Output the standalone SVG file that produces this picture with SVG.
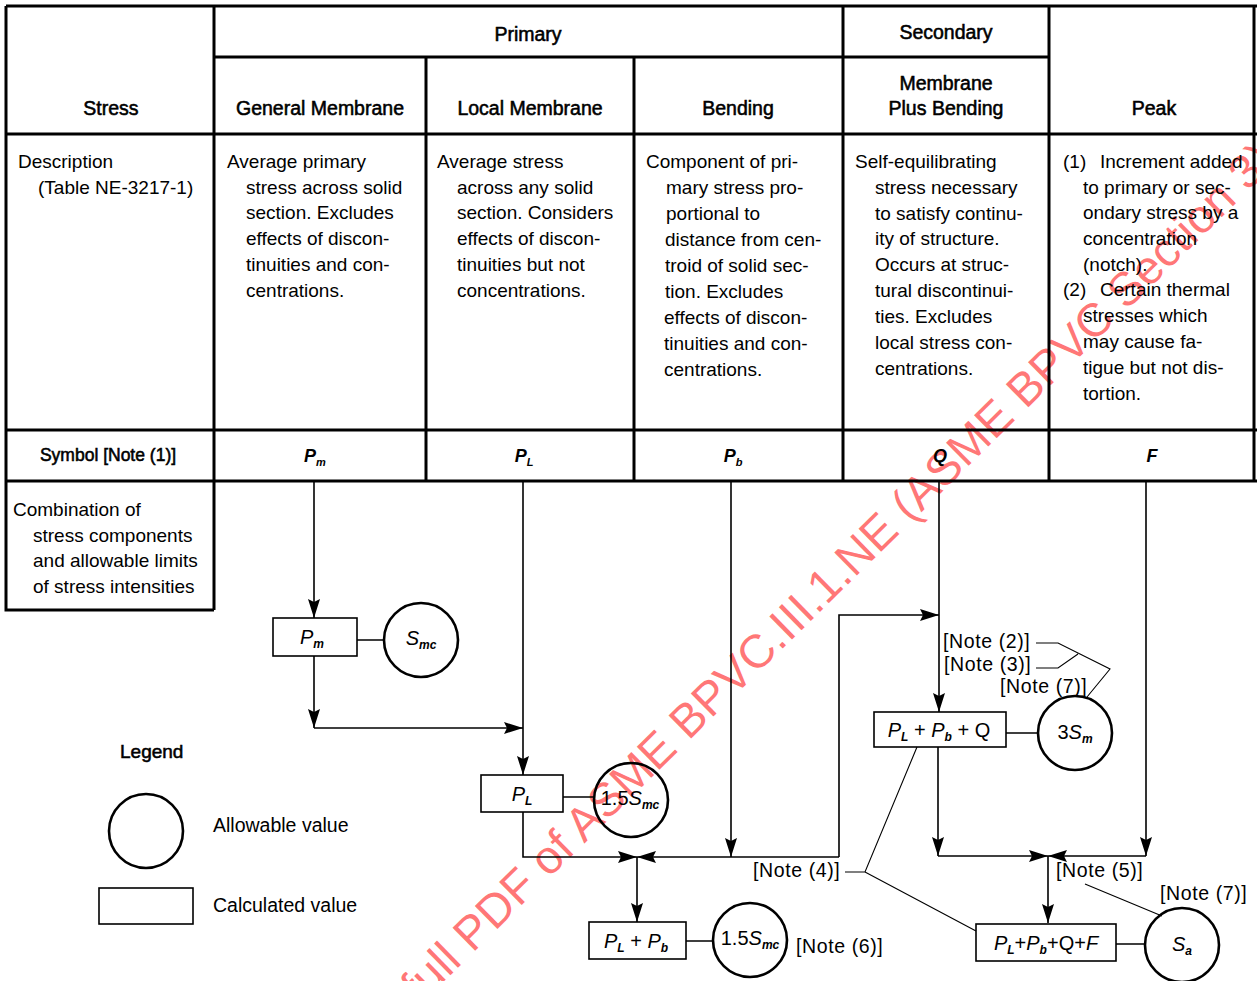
<svg xmlns="http://www.w3.org/2000/svg" width="1257" height="981" viewBox="0 0 1257 981">
<style>
text{font-family:"Liberation Sans",Arial,sans-serif;fill:#000}
.tl{stroke:#000;stroke-width:3;fill:none}
.fl{stroke:#000;stroke-width:1.6;fill:none}
.box{fill:none;stroke:#000;stroke-width:1.6}
.circ{fill:none;stroke:#000;stroke-width:2.6}
.ld{stroke:#000;stroke-width:1.1;fill:none}
.h{font-size:19.5px;text-anchor:middle;stroke:#000;stroke-width:0.55px}
.d{font-size:19px}
.sy{font-weight:bold;font-style:italic;font-size:18px;text-anchor:middle}
.ss{font-size:11px}
.bl{font-style:italic;font-size:20px;text-anchor:middle}
.bs{font-size:12px;font-weight:bold}
.nt{font-size:19.5px;letter-spacing:0.6px}
.lg{font-size:19.5px}
.wm{font-size:47px;fill:#ff0000;fill-opacity:0.55}
</style>
<defs>
<marker id="ar" markerUnits="userSpaceOnUse" markerWidth="20" markerHeight="13" refX="19" refY="6.5" orient="auto">
<path d="M0,0.5 L19,6.5 L0,12.5 L3,6.5 z" fill="#000"/>
</marker>
</defs>
<rect width="1257" height="981" fill="#fff"/>
<g id="watermark">
<text class="wm" transform="translate(586,842) rotate(-44.5)" x="-585" y="0">Click to view the full PDF of ASME BPVC.III.1.NE (ASME BPVC Section 3)</text>
</g>
<g id="table">
<path class="tl" d="M6,6 H1257 M6,6 V610 H214 M214,6 V610 M214,57 H1049 M843,6 V481 M1049,6 V481 M1254,6 V481 M426,57 V481 M634,57 V481 M6,134 H1257 M6,430 H1257 M6,481 H1257"/>
<text class="h" x="528" y="41">Primary</text>
<text class="h" x="946" y="39">Secondary</text>
<text class="h" x="111" y="115">Stress</text>
<text class="h" x="320" y="115">General Membrane</text>
<text class="h" x="530" y="115">Local Membrane</text>
<text class="h" x="738" y="115">Bending</text>
<text class="h" x="946" y="90">Membrane</text>
<text class="h" x="946" y="115">Plus Bending</text>
<text class="h" x="1154" y="115">Peak</text>
<text class="d"><tspan x="18" y="168">Description</tspan><tspan x="38" y="194">(Table NE-3217-1)</tspan></text>
<text class="d"><tspan x="227" y="168">Average primary</tspan><tspan x="246" y="194">stress across solid</tspan><tspan x="246" y="219">section. Excludes</tspan><tspan x="246" y="245">effects of discon-</tspan><tspan x="246" y="271">tinuities and con-</tspan><tspan x="246" y="297">centrations.</tspan></text>
<text class="d"><tspan x="437" y="168">Average stress</tspan><tspan x="457" y="194">across any solid</tspan><tspan x="457" y="219">section. Considers</tspan><tspan x="457" y="245">effects of discon-</tspan><tspan x="457" y="271">tinuities but not</tspan><tspan x="457" y="297">concentrations.</tspan></text>
<text class="d"><tspan x="646" y="168">Component of pri-</tspan><tspan x="666" y="194">mary stress pro-</tspan><tspan x="666" y="220">portional to</tspan><tspan x="665" y="246">distance from cen-</tspan><tspan x="665" y="272">troid of solid sec-</tspan><tspan x="665" y="298">tion. Excludes</tspan><tspan x="664" y="324">effects of discon-</tspan><tspan x="664" y="350">tinuities and con-</tspan><tspan x="664" y="376">centrations.</tspan></text>
<text class="d"><tspan x="855" y="168">Self-equilibrating</tspan><tspan x="875" y="194">stress necessary</tspan><tspan x="875" y="220">to satisfy continu-</tspan><tspan x="875" y="245">ity of structure.</tspan><tspan x="875" y="271">Occurs at struc-</tspan><tspan x="875" y="297">tural discontinui-</tspan><tspan x="875" y="323">ties. Excludes</tspan><tspan x="875" y="349">local stress con-</tspan><tspan x="875" y="375">centrations.</tspan></text>
<text class="d"><tspan x="1063" y="168">(1)</tspan><tspan x="1100" y="168">Increment added</tspan><tspan x="1083" y="194">to primary or sec-</tspan><tspan x="1083" y="219">ondary stress by a</tspan><tspan x="1083" y="245">concentration</tspan><tspan x="1083" y="271">(notch).</tspan><tspan x="1063" y="296">(2)</tspan><tspan x="1100" y="296">Certain thermal</tspan><tspan x="1083" y="322">stresses which</tspan><tspan x="1083" y="348">may cause fa-</tspan><tspan x="1083" y="374">tigue but not dis-</tspan><tspan x="1083" y="400">tortion.</tspan></text>
<text class="h" x="108" y="461" style="font-size:17.5px">Symbol [Note (1)]</text>
<text class="sy" x="315" y="462">P<tspan class="ss" dy="4">m</tspan></text>
<text class="sy" x="524" y="462">P<tspan class="ss" dy="4">L</tspan></text>
<text class="sy" x="733" y="462">P<tspan class="ss" dy="4">b</tspan></text>
<text class="sy" x="940" y="462">Q</text>
<text class="sy" x="1152" y="462">F</text>
<text class="d"><tspan x="13" y="516">Combination of</tspan><tspan x="33" y="542">stress components</tspan><tspan x="33" y="567">and allowable limits</tspan><tspan x="33" y="593">of stress intensities</tspan></text>
</g>
<g id="connectors">
<path class="fl" d="M314,481 V618" marker-end="url(#ar)"/>
<path class="fl" d="M314,656 V728" marker-end="url(#ar)"/>
<path class="fl" d="M314,728 H523" marker-end="url(#ar)"/>
<path class="fl" d="M523,481 V775" marker-end="url(#ar)"/>
<path class="fl" d="M523,812 V857 H637" marker-end="url(#ar)"/>
<path class="fl" d="M839,857 H637" marker-end="url(#ar)"/>
<path class="fl" d="M839,857 V615 H939" marker-end="url(#ar)"/>
<path class="fl" d="M731,481 V857" marker-end="url(#ar)"/>
<path class="fl" d="M637,857 V922" marker-end="url(#ar)"/>
<path class="fl" d="M939,481 V712" marker-end="url(#ar)"/>
<path class="fl" d="M938,747 V856" marker-end="url(#ar)"/>
<path class="fl" d="M938,856 H1048" marker-end="url(#ar)"/>
<path class="fl" d="M1146,481 V856" marker-end="url(#ar)"/>
<path class="fl" d="M1146,856 H1048" marker-end="url(#ar)"/>
<path class="fl" d="M1048,856 V923" marker-end="url(#ar)"/>
<path class="fl" d="M357,640 H383 M563,797 H594 M686,941 H712 M1006,733 H1038 M1116,944 H1145"/>
<path class="ld" d="M1036,643 H1058 L1110,669 L1087,697 M1036,668 H1058 L1078,654 M845,872 H865 L917,747 M865,872 L976,931 M1085,884 L1162,916"/>
</g>
<g id="n-pm"><rect class="box" x="273" y="618" width="84" height="38"/><text class="bl" x="312" y="644">P<tspan class="bs" dy="4">m</tspan></text></g>
<g id="n-smc"><circle class="circ" cx="421" cy="640" r="37"/><text class="bl" x="421" y="645">S<tspan class="bs" dy="4" style="font-style:italic">mc</tspan></text></g>
<g id="n-pl"><rect class="box" x="481" y="775" width="82" height="37"/><text class="bl" x="522" y="801">P<tspan class="bs" dy="4">L</tspan></text></g>
<g id="n-15smc-a"><circle class="circ" cx="631" cy="800" r="37"/><text class="bl" x="630" y="805"><tspan style="font-style:normal">1.5</tspan>S<tspan class="bs" dy="4" style="font-style:italic">mc</tspan></text></g>
<g id="n-plpb"><rect class="box" x="589" y="922" width="97" height="37"/><text class="bl" x="636" y="948">P<tspan class="bs" dy="4">L</tspan><tspan dy="-4" style="font-style:normal"> + </tspan>P<tspan class="bs" dy="4">b</tspan></text></g>
<g id="n-15smc-b"><circle class="circ" cx="750" cy="940" r="37"/><text class="bl" x="750" y="945"><tspan style="font-style:normal">1.5</tspan>S<tspan class="bs" dy="4" style="font-style:italic">mc</tspan></text><text class="nt" x="796" y="953">[Note (6)]</text></g>
<g id="n-plpbq"><rect class="box" x="874" y="712" width="132" height="35"/><text class="bl" x="939" y="737">P<tspan class="bs" dy="4">L</tspan><tspan dy="-4" style="font-style:normal"> + </tspan>P<tspan class="bs" dy="4">b</tspan><tspan dy="-4" style="font-style:normal"> + Q</tspan></text></g>
<g id="n-3sm"><circle class="circ" cx="1075" cy="733" r="37"/><text class="bl" x="1075" y="739"><tspan style="font-style:normal">3</tspan>S<tspan class="bs" dy="4" style="font-style:italic">m</tspan></text></g>
<g id="n-plpbqf"><rect class="box" x="976" y="924" width="140" height="37"/><text class="bl" x="1046" y="950">P<tspan class="bs" dy="4">L</tspan><tspan dy="-4" style="font-style:normal">+</tspan>P<tspan class="bs" dy="4">b</tspan><tspan dy="-4" style="font-style:normal">+Q+</tspan>F</text></g>
<g id="n-sa"><circle class="circ" cx="1182" cy="945" r="37"/><text class="bl" x="1182" y="951">S<tspan class="bs" dy="4">a</tspan></text></g>
<g id="notes">
<text class="nt" x="943" y="648">[Note (2)]</text>
<text class="nt" x="944" y="671">[Note (3)]</text>
<text class="nt" x="1000" y="693">[Note (7)]</text>
<text class="nt" x="753" y="877">[Note (4)]</text>
<text class="nt" x="1056" y="877">[Note (5)]</text>
<text class="nt" x="1160" y="900">[Note (7)]</text>
</g>
<g id="legend">
<text x="120" y="758" style="font-size:19px;stroke:#000;stroke-width:0.55px">Legend</text>
<circle class="circ" cx="146" cy="831" r="37"/>
<text class="lg" x="213" y="832">Allowable value</text>
<rect class="box" x="99" y="888" width="94" height="36"/>
<text class="lg" x="213" y="912">Calculated value</text>
</g>
</svg>
